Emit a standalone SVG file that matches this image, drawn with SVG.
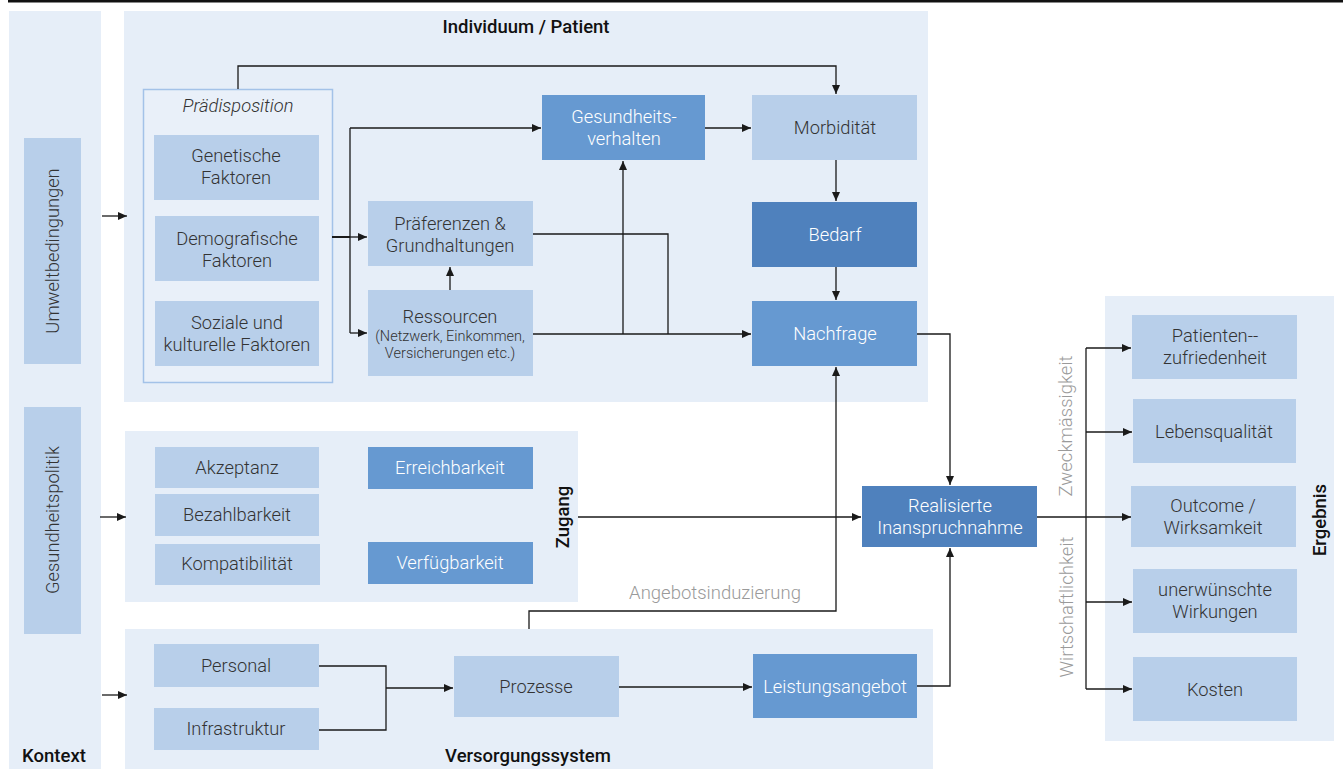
<svg xmlns="http://www.w3.org/2000/svg" width="1343" height="769" viewBox="0 0 1343 769">
<style>
.panel{fill:#e6eef8}
.lb{fill:#b8cfea}
.mb{fill:#6699d1}
.db{fill:#4f81bd}
.t{font-family:Roboto,"Liberation Sans",sans-serif;font-weight:300;font-size:18.3px;fill:#333;text-anchor:middle}
.w{fill:#fff}
.s{font-size:14.5px}
.h{font-family:Roboto,"Liberation Sans",sans-serif;font-weight:500;font-size:18.5px;fill:#111;text-anchor:middle}
.g{font-family:Roboto,"Liberation Sans",sans-serif;font-weight:300;font-size:18.5px;fill:#9a9a9a;text-anchor:middle}
.c{fill:none;stroke:#1a1a1a;stroke-width:1.3}
</style>
<defs>
<marker id="a" markerUnits="userSpaceOnUse" markerWidth="10" markerHeight="8" refX="9" refY="4" orient="auto">
<path d="M0,0 L9,4 L0,8 z" fill="#1a1a1a"/>
</marker>
</defs>
<rect x="8" y="0" width="1335" height="2.5" fill="#111"/>

<g id="kontext">
<rect class="panel" x="9" y="11" width="92" height="758"/>
<text class="h" x="54" y="762">Kontext</text>
</g>
<g id="umweltbedingungen">
<rect class="lb" x="24" y="138" width="57" height="226"/>
<text class="t" transform="translate(59,251) rotate(-90)">Umweltbedingungen</text>
</g>
<g id="gesundheitspolitik">
<rect class="lb" x="24" y="407" width="57" height="227"/>
<text class="t" transform="translate(59,520) rotate(-90)">Gesundheitspolitik</text>
</g>

<g id="individuum">
<rect class="panel" x="124" y="11" width="804" height="391"/>
<text class="h" x="526" y="33">Individuum / Patient</text>
</g>
<g id="praedisposition">
<rect x="143.5" y="89.5" width="189" height="293" fill="#e9f0f9" stroke="#a3c2e8" stroke-width="1.5"/>
<text class="t" x="238" y="112" style="font-style:italic">Prädisposition</text>
</g>
<g id="genetische">
<rect class="lb" x="154" y="135" width="165" height="65"/>
<text class="t" x="236" y="162">Genetische</text>
<text class="t" x="236" y="184">Faktoren</text>
</g>
<g id="demografische">
<rect class="lb" x="155" y="216" width="164" height="65"/>
<text class="t" x="237" y="245">Demografische</text>
<text class="t" x="237" y="267">Faktoren</text>
</g>
<g id="soziale">
<rect class="lb" x="155" y="301" width="164" height="65"/>
<text class="t" x="237" y="329">Soziale und</text>
<text class="t" x="237" y="351">kulturelle Faktoren</text>
</g>
<g id="praeferenzen">
<rect class="lb" x="368" y="201" width="165" height="65"/>
<text class="t" x="450" y="230">Präferenzen &amp;</text>
<text class="t" x="450" y="252">Grundhaltungen</text>
</g>
<g id="ressourcen">
<rect class="lb" x="368" y="290" width="165" height="86"/>
<text class="t" x="450" y="323">Ressourcen</text>
<text class="t s" x="450" y="341">(Netzwerk, Einkommen,</text>
<text class="t s" x="450" y="358">Versicherungen etc.)</text>
</g>
<g id="gesundheitsverhalten">
<rect class="mb" x="542" y="95" width="163" height="65"/>
<text class="t w" x="624" y="123">Gesundheits-</text>
<text class="t w" x="624" y="145">verhalten</text>
</g>
<g id="morbiditaet">
<rect class="lb" x="752" y="95" width="165" height="65"/>
<text class="t" x="835" y="134">Morbidität</text>
</g>
<g id="bedarf">
<rect class="db" x="752" y="202" width="165" height="65"/>
<text class="t w" x="835" y="241">Bedarf</text>
</g>
<g id="nachfrage">
<rect class="mb" x="752" y="301" width="165" height="65"/>
<text class="t w" x="835" y="340">Nachfrage</text>
</g>

<g id="zugang">
<rect class="panel" x="125" y="431" width="453" height="171"/>
<text class="h" transform="translate(569,517) rotate(-90)">Zugang</text>
</g>
<g id="akzeptanz">
<rect class="lb" x="155" y="447" width="164" height="41"/>
<text class="t" x="237" y="474">Akzeptanz</text>
</g>
<g id="bezahlbarkeit">
<rect class="lb" x="155" y="494" width="164" height="42"/>
<text class="t" x="237" y="521">Bezahlbarkeit</text>
</g>
<g id="kompatibilitaet">
<rect class="lb" x="155" y="544" width="165" height="41"/>
<text class="t" x="237" y="570">Kompatibilität</text>
</g>
<g id="erreichbarkeit">
<rect class="mb" x="368" y="447" width="165" height="42"/>
<text class="t w" x="450" y="474">Erreichbarkeit</text>
</g>
<g id="verfuegbarkeit">
<rect class="mb" x="368" y="542" width="165" height="42"/>
<text class="t w" x="450" y="569">Verfügbarkeit</text>
</g>

<g id="versorgungssystem">
<rect class="panel" x="125" y="629" width="808" height="140"/>
<text class="h" x="528" y="762">Versorgungssystem</text>
</g>
<g id="personal">
<rect class="lb" x="154" y="644" width="165" height="43"/>
<text class="t" x="236" y="672">Personal</text>
</g>
<g id="infrastruktur">
<rect class="lb" x="154" y="708" width="165" height="42"/>
<text class="t" x="236" y="735">Infrastruktur</text>
</g>
<g id="prozesse">
<rect class="lb" x="454" y="656" width="165" height="61"/>
<text class="t" x="536" y="693">Prozesse</text>
</g>
<g id="leistungsangebot">
<rect class="mb" x="753" y="654" width="164" height="64"/>
<text class="t w" x="835" y="693">Leistungsangebot</text>
</g>

<g id="realisierte">
<rect class="db" x="862" y="486" width="175" height="61"/>
<text class="t w" x="950" y="512">Realisierte</text>
<text class="t w" x="950" y="534">Inanspruchnahme</text>
</g>

<g id="ergebnis">
<rect class="panel" x="1105" y="296" width="229" height="445"/>
<text class="h" transform="translate(1326,520) rotate(-90)">Ergebnis</text>
</g>
<g id="patientenzufriedenheit">
<rect class="lb" x="1132" y="315" width="165" height="64"/>
<text class="t" x="1215" y="342">Patienten--</text>
<text class="t" x="1215" y="364">zufriedenheit</text>
</g>
<g id="lebensqualitaet">
<rect class="lb" x="1133" y="399" width="163" height="64"/>
<text class="t" x="1214" y="438">Lebensqualität</text>
</g>
<g id="outcome">
<rect class="lb" x="1131" y="486" width="165" height="61"/>
<text class="t" x="1213" y="512">Outcome /</text>
<text class="t" x="1213" y="534">Wirksamkeit</text>
</g>
<g id="unerwuenscht">
<rect class="lb" x="1133" y="569" width="164" height="64"/>
<text class="t" x="1215" y="596">unerwünschte</text>
<text class="t" x="1215" y="618">Wirkungen</text>
</g>
<g id="kosten">
<rect class="lb" x="1133" y="657" width="164" height="64"/>
<text class="t" x="1215" y="696">Kosten</text>
</g>

<g id="connectors">
<path class="c" d="M102,216 H127" marker-end="url(#a)"/>
<path class="c" d="M100,517 H126" marker-end="url(#a)"/>
<path class="c" d="M102,695 H127" marker-end="url(#a)"/>
<path class="c" d="M238,89 V66 H836 V94" marker-end="url(#a)"/>
<path class="c" d="M332,237 H350" style="stroke-width:2"/>
<path class="c" d="M350,128 V333"/>
<path class="c" d="M350,128 H541" marker-end="url(#a)"/>
<path class="c" d="M350,237 H367" marker-end="url(#a)"/>
<path class="c" d="M350,333 H367" marker-end="url(#a)"/>
<path class="c" d="M450,290 V267" marker-end="url(#a)"/>
<path class="c" d="M533,334 H751" marker-end="url(#a)"/>
<path class="c" d="M623,334 V161" marker-end="url(#a)"/>
<path class="c" d="M533,234 H668 V334"/>
<path class="c" d="M705,128 H751" marker-end="url(#a)"/>
<path class="c" d="M836,160 V201" marker-end="url(#a)"/>
<path class="c" d="M836,267 V300" marker-end="url(#a)"/>
<path class="c" d="M917,334 H950 V485" marker-end="url(#a)"/>
<path class="c" d="M578,517 H861" marker-end="url(#a)"/>
<path class="c" d="M529,629 V611 H836 V367" marker-end="url(#a)"/>
<text class="g" x="715" y="599">Angebotsinduzierung</text>
<path class="c" d="M319,666 H386 V730 H319"/>
<path class="c" d="M386,688 H453" marker-end="url(#a)"/>
<path class="c" d="M619,687 H752" marker-end="url(#a)"/>
<path class="c" d="M917,686 H950 V548" marker-end="url(#a)"/>
<path class="c" d="M1037,517 H1131" marker-end="url(#a)"/>
<path class="c" d="M1086,348 V689"/>
<path class="c" d="M1086,348 H1131" marker-end="url(#a)"/>
<path class="c" d="M1086,432 H1132" marker-end="url(#a)"/>
<path class="c" d="M1086,602 H1132" marker-end="url(#a)"/>
<path class="c" d="M1086,689 H1132" marker-end="url(#a)"/>
<text class="g" transform="translate(1072,426) rotate(-90)">Zweckmässigkeit</text>
<text class="g" transform="translate(1073,607) rotate(-90)">Wirtschaftlichkeit</text>
</g>
</svg>
